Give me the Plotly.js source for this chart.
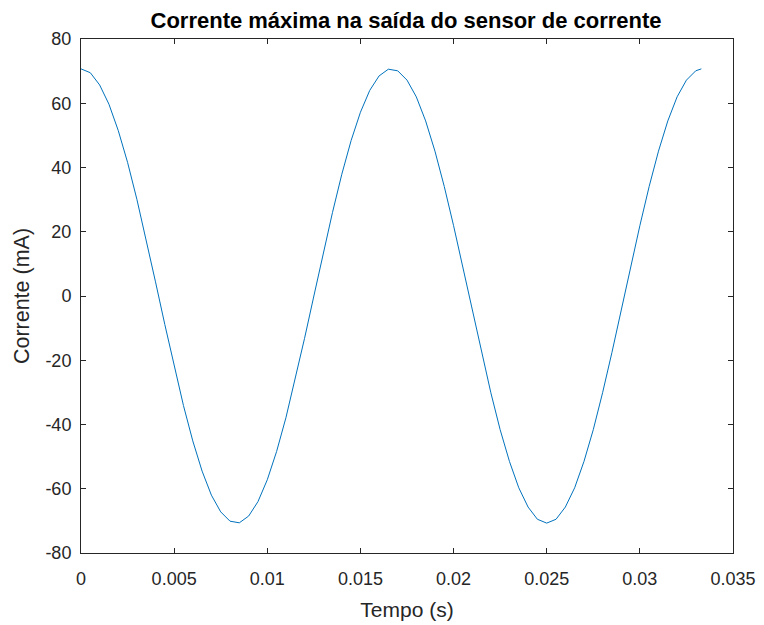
<!DOCTYPE html>
<html>
<head>
<meta charset="utf-8">
<script src="https://cdn.plot.ly/plotly-3.0.1.min.js"></script>
<style>
  html, body { margin: 0; padding: 0; background: #fff; }
  #chart { width: 764px; height: 625px; }
</style>
</head>
<body>
<div id="chart"></div>
<script>
// Sampled sensor output: time (s) and current (mA)
const tempo = [
  0, 0.0005, 0.001, 0.0015, 0.002, 0.0025, 0.003, 0.0035, 0.004, 0.0045,
  0.005, 0.0055, 0.006, 0.0065, 0.007, 0.0075, 0.008, 0.0085, 0.009, 0.0095,
  0.01, 0.0105, 0.011, 0.0115, 0.012, 0.0125, 0.013, 0.0135, 0.014, 0.0145,
  0.015, 0.0155, 0.016, 0.0165, 0.017, 0.0175, 0.018, 0.0185, 0.019, 0.0195,
  0.02, 0.0205, 0.021, 0.0215, 0.022, 0.0225, 0.023, 0.0235, 0.024, 0.0245,
  0.025, 0.0255, 0.026, 0.0265, 0.027, 0.0275, 0.028, 0.0285, 0.029, 0.0295,
  0.03, 0.0305, 0.031, 0.0315, 0.032, 0.0325, 0.033, 0.0333
];
const corrente = [
  70.7, 69.5, 65.7, 59.7, 51.5, 41.6, 30.1, 17.6, 4.4, -8.9,
  -21.9, -34.1, -45.1, -54.5, -62.0, -67.2, -70.1, -70.6, -68.5, -64.0,
  -57.2, -48.4, -37.9, -26.0, -13.2, 0.0, 13.2, 26.0, 37.9, 48.4,
  57.2, 64.0, 68.5, 70.6, 70.1, 67.2, 62.0, 54.5, 45.1, 34.1,
  21.9, 8.9, -4.4, -17.6, -30.1, -41.6, -51.5, -59.7, -65.7, -69.5,
  -70.7, -69.5, -65.7, -59.7, -51.5, -41.6, -30.1, -17.6, -4.4, 8.9,
  21.9, 34.1, 45.1, 54.5, 62.0, 67.2, 70.1, 70.7
];

// Axis ticks
const xTickVals = [0, 0.005, 0.01, 0.015, 0.02, 0.025, 0.03, 0.035];
const xTickText = ['0', '0.005', '0.01', '0.015', '0.02', '0.025', '0.03', '0.035'];
const yTickVals = [-80, -60, -40, -20, 0, 20, 40, 60, 80];
const yTickText = ['-80', '-60', '-40', '-20', '0', '20', '40', '60', '80'];

const axisColor = '#262626';
const font = 'Liberation Sans, Arial, Helvetica, sans-serif';

const trace = {
  x: tempo,
  y: corrente,
  type: 'scatter',
  mode: 'lines',
  line: { color: '#0072BD', width: 1 },
  hoverinfo: 'x+y'
};

const axisBase = {
  showline: true,
  linecolor: axisColor,
  linewidth: 1,
  mirror: 'ticks',
  ticks: 'inside',
  ticklen: 5,
  tickwidth: 1,
  tickcolor: axisColor,
  showgrid: false,
  zeroline: false,
  tickmode: 'array',
  tickfont: { family: font, size: 18, color: axisColor }
};

const layout = {
  width: 764,
  height: 625,
  margin: { l: 81, r: 31, t: 39, b: 72 },
  paper_bgcolor: '#ffffff',
  plot_bgcolor: '#ffffff',
  showlegend: false,
  title: {
    text: '<b>Corrente máxima na saída do sensor de corrente</b>',
    font: { family: font, size: 22, color: '#000000' },
    x: 0.5315,
    xanchor: 'center',
    y: 0.968,
    yanchor: 'middle'
  },
  xaxis: Object.assign({}, axisBase, {
    range: [0, 0.035],
    tickvals: xTickVals,
    ticktext: xTickText,
    ticklabelstandoff: 9,
    title: { text: 'Tempo (s)', font: { family: font, size: 21, color: axisColor }, standoff: 14 }
  }),
  yaxis: Object.assign({}, axisBase, {
    range: [-80, 80],
    tickvals: yTickVals,
    ticktext: yTickText,
    ticklabelstandoff: 5,
    title: { text: 'Corrente (mA)', font: { family: font, size: 21.5, color: axisColor }, standoff: 9 }
  })
};

Plotly.newPlot('chart', [trace], layout, { displayModeBar: false, staticPlot: true });
</script>
</body>
</html>
